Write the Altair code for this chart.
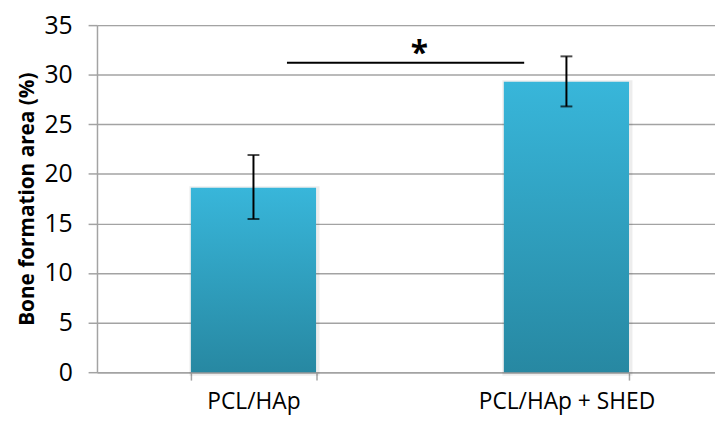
import altair as alt
import pandas as pd

# ---- data ----
groups = ["PCL/HAp", "PCL/HAp + SHED"]
means = [18.6, 29.3]
err_low = [15.45, 26.8]
err_high = [21.9, 31.85]

sig_x1 = [0.607]
sig_x2 = [1.365]
sig_y = [31.2]
star_x = [1.03]
star_label = ["*"]

y_ticks = [0, 5, 10, 15, 20, 25, 30, 35]

df = pd.DataFrame({"group": groups, "mean": means, "lo": err_low, "hi": err_high})
sig = pd.DataFrame({"x1": sig_x1, "x2": sig_x2, "y": sig_y, "xs": star_x, "label": star_label})

W = 625
RANGE = 633
H = 351
FONT = "Open Sans"
GRID = "#a3a3a3"

xband = alt.X(
    "group:N",
    sort=groups,
    scale=alt.Scale(range=[0, RANGE], paddingInner=0.6, paddingOuter=0.3),
    axis=alt.Axis(
        title=None, labelAngle=0, tickBand="extent", tickSize=8, tickColor=GRID,
        tickWidth=1.5, domainColor=GRID, domainWidth=1.5, labelFontSize=23,
        labelColor="#000", labelFont=FONT, labelPadding=11, grid=False,
    ),
)
yq = alt.Y(
    "mean:Q",
    scale=alt.Scale(domain=[0, 35], nice=False),
    axis=alt.Axis(
        values=y_ticks, title="Bone formation area (%)", titleFontSize=21,
        titleFont=FONT, titleFontWeight="bold", titleColor="#000", titlePadding=7,
        labelFontSize=25, labelFont=FONT, labelColor="#000", labelPadding=16,
        tickSize=9, tickColor=GRID, tickWidth=1.5, domainColor=GRID, domainWidth=1.5,
        grid=True, gridColor=GRID, gridWidth=1.5,
    ),
)

grad = alt.Gradient(
    gradient="linear",
    stops=[alt.GradientStop(color="#38b6da", offset=0), alt.GradientStop(color="#2788a2", offset=1)],
    x1=0, x2=0, y1=0, y2=1,
)

base = alt.Chart(df)
shadow = base.mark_bar(fill=None, stroke="#000", strokeOpacity=0.07, strokeWidth=5, xOffset=1, yOffset=1).encode(x=xband, y=yq)
bars = base.mark_bar(color=grad).encode(x=xband, y=yq)
rules = base.mark_rule(color="#000", strokeWidth=2).encode(x=xband, y=alt.Y("lo:Q"), y2="hi:Q")
cap_lo = base.mark_tick(color="#000", size=12, thickness=2).encode(x=xband, y=alt.Y("lo:Q"))
cap_hi = base.mark_tick(color="#000", size=12, thickness=2).encode(x=xband, y=alt.Y("hi:Q"))

xs = alt.Scale(domain=[0, 2], range=[0, RANGE])
sig_line = alt.Chart(sig).mark_rule(color="#000", strokeWidth=2).encode(
    x=alt.X("x1:Q", scale=xs, axis=None), x2="x2:Q", y=alt.Y("y:Q")
)
star = alt.Chart(sig).mark_text(font=FONT, fontSize=32, fontWeight="bold", baseline="alphabetic", color="#000", dy=1).encode(
    x=alt.X("xs:Q", scale=xs, axis=None), y=alt.Y("y:Q"), text="label:N"
)
sig_layer = alt.layer(sig_line, star)

chart = (
    alt.layer(alt.layer(shadow, bars, rules, cap_lo, cap_hi), sig_layer)
    .resolve_scale(x="independent")
    .properties(
        width=W, height=H,
        autosize=alt.AutoSizeParams(type="none"),
        padding={"left": 90, "top": 15, "right": 0, "bottom": 44},
    )
    .configure_view(stroke=None)
    .configure(font=FONT)
)

chart.save("out.html", embed_options={"renderer": "svg", "actions": False})
